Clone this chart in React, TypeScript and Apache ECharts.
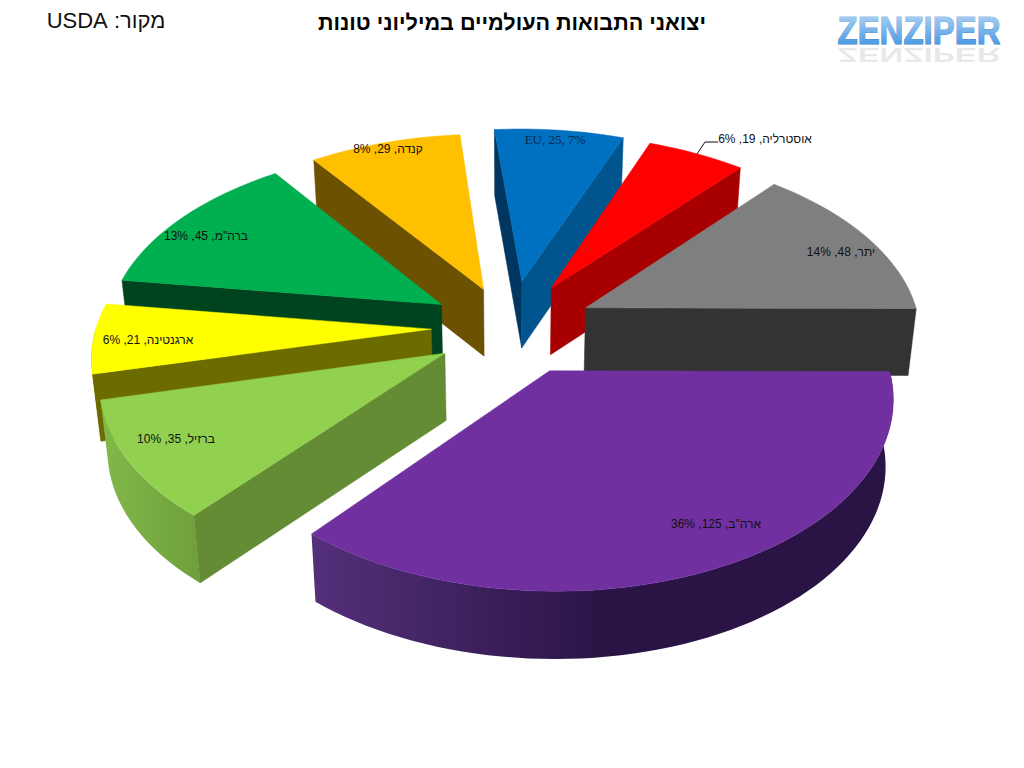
import React, { useEffect, useRef } from "react";
import * as echarts from "echarts";

const titleText = "יצואני התבואות העולמיים במיליוני טונות";
const sourceText = "מקור: USDA";
const logoText = "ZENZIPER";

const categories = ["EU", "אוסטרליה", "יתר", "ארה\"ב", "ברזיל", "ארגנטינה", "ברה\"מ", "קנדה"];
const values = [25, 19, 48, 125, 35, 21, 45, 29];
const percents = [7, 6, 14, 36, 10, 6, 13, 8];

// Look of each slice, same order as the categories
const topColors = ["#0070c0", "#ff0000", "#7f7f7f", "#7030a0", "#92d050", "#ffff00", "#00b050", "#ffc000"];
const startFaceColors = ["#00365f", "#a80000", "#333333", "#3a1a55", "#648c35", "#6b6b00", "#00441f", "#6b5100"];
const endFaceColors = ["#00558f", "#a80000", "#333333", "#3a1a55", "#648c35", "#6b6b00", "#00441f", "#6b5100"];
const rimStops = [
  ["#00365f", "#00365f"],
  ["#a80000", "#a80000"],
  ["#333333", "#333333"],
  ["#54307a", "#2a1445", "#2a1445"],
  ["#82b94a", "#6f9f3c"],
  ["#6b6b00", "#6b6b00"],
  ["#00441f", "#00441f"],
  ["#6b5100", "#6b5100"],
];
const explosions = [0.262, 0.255, 0.255, 0.26, 0.235, 0.232, 0.24, 0.225];
const explosionTurns = [1, 0, 0, -2, -5, 0, 0, 0];
const radiusScales = [1, 1, 1, 0.984, 1, 1, 1, 1.01];
const labelAnchors = [
  [555, 139], [765, 139], [841, 252], [716, 524], [176, 439], [148, 340], [206, 236], [388, 149],
];
// Back to front
const paintOrder = [0, 1, 7, 2, 6, 5, 4, 3];

const CX = 509, CY = 327, RX = 335, RY = 183, PERSP = 0.13, DEPTH = 67, SHRINK = 0.02;
const FIRST_ANGLE = -5.2;

const total = values.reduce((a, b) => a + b, 0);
const starts: number[] = [];
values.reduce((acc, v, i) => {
  starts[i] = acc;
  return acc + (v / total) * 360;
}, FIRST_ANGLE);

function project(u: number, v: number, down: number): number[] {
  const w = 1 - PERSP * v;
  const x = CX + (RX * u) / w;
  const y = CY + (RY * v) / w;
  const d = 1 - SHRINK * down;
  return [CX + (x - CX) * d, CY + (y - CY) * d + (DEPTH / Math.sqrt(w)) * down];
}

function labelText(i: number): string {
  const s = `${categories[i]}, ${values[i]}, ${percents[i]}%`;
  return /^[A-Z]/.test(categories[i]) ? `\u202A${s}\u202C` : s;
}

function renderSlice(_: any, api: any) {
  const i = api.value(0) as number;
  const a0 = starts[i];
  const a1 = a0 + (values[i] / total) * 360;
  const rad = (d: number) => (d * Math.PI) / 180;
  const mid = rad((a0 + a1) / 2 + explosionTurns[i]);
  const ex = explosions[i];
  const rs = radiusScales[i];
  const ou = Math.sin(mid) * ex;
  const ov = -Math.cos(mid) * ex;
  const at = (deg: number, r: number, down: number) =>
    project(ou + Math.sin(rad(deg)) * r * rs, ov - Math.cos(rad(deg)) * r * rs, down);

  const arcDeg: number[] = [];
  const steps = Math.max(8, Math.round((a1 - a0) / 2));
  for (let k = 0; k <= steps; k++) arcDeg.push(a0 + ((a1 - a0) * k) / steps);

  const apex = at(0, 0, 0);
  const apexDown = at(0, 0, 1);
  const inner = at((a0 + a1) / 2, 0.6, 0);
  const faceVisible = (deg: number) => {
    const p = at(deg, 1, 0);
    const ex1 = p[0] - apex[0], ey1 = p[1] - apex[1];
    const crossInner = ex1 * (inner[1] - apex[1]) - ey1 * (inner[0] - apex[0]);
    const crossDown = ex1;
    return crossInner * crossDown < 0;
  };

  const children: any[] = [];
  const rimDeg = arcDeg.filter((d) => Math.cos(rad(d)) < 0.02);
  if (rimDeg.length > 1) {
    const top = rimDeg.map((d) => at(d, 1, 0));
    const bottom = rimDeg.map((d) => at(d, 1, 1)).reverse();
    const stops = rimStops[i];
    children.push({
      type: "polygon",
      shape: { points: top.concat(bottom) },
      style: {
        fill: new echarts.graphic.LinearGradient(
          0, 0, 1, 0,
          stops.map((color, k) => ({ offset: k / (stops.length - 1), color }))
        ),
      },
    });
  }
  [[a0, startFaceColors[i]], [a1, endFaceColors[i]]].forEach(([deg, color]: any) => {
    if (!faceVisible(deg)) return;
    children.push({
      type: "polygon",
      shape: { points: [apex, at(deg, 1, 0), at(deg, 1, 1), apexDown] },
      style: { fill: color, stroke: color, lineWidth: 0.5 },
    });
  });
  children.push({
    type: "polygon",
    shape: { points: [apex].concat(arcDeg.map((d) => at(d, 1, 0))) },
    style: { fill: topColors[i], stroke: topColors[i], lineWidth: 0.5 },
  });
  children.push({
    type: "text",
    x: labelAnchors[i][0],
    y: labelAnchors[i][1],
    style: {
      text: labelText(i),
      fill: i === 0 ? "#0b2a4a" : "#111111",
      font: i === 0 ? '13px "Liberation Serif"' : '12px "Liberation Sans"',
      align: "center",
      verticalAlign: "middle",
    },
  });
  return { type: "group", children };
}

export default function App() {
  const ref = useRef<HTMLDivElement>(null);
  useEffect(() => {
    document.body.style.margin = "0";
    const chart = echarts.init(ref.current!, null, { renderer: "svg" });
    chart.setOption({
      animation: false,
      backgroundColor: "#ffffff",
      series: [
        {
          type: "custom",
          coordinateSystem: "none",
          silent: true,
          data: paintOrder.map((i) => [i, values[i]]),
          renderItem: renderSlice,
        },
      ],
      graphic: [
        {
          type: "text", x: 512, y: 22, z: 10,
          style: { text: titleText, fill: "#000", font: 'bold 21.6px "Liberation Sans"', align: "center", verticalAlign: "middle" },
        },
        {
          type: "text", x: 106, y: 20, z: 10,
          style: { text: sourceText, fill: "#111", font: '22px "Liberation Sans"', align: "center", verticalAlign: "middle" },
        },
        {
          type: "text", x: 919, y: 30, z: 10, scaleX: 0.97, scaleY: 1.15,
          style: {
            text: logoText,
            font: 'bold 34px "Liberation Sans"',
            align: "center", verticalAlign: "middle",
            fill: "#4d9de6", stroke: "#3f7fc4", lineWidth: 1,
          },
        },
        {
          type: "rect", z: 11,
          shape: { x: 836, y: 10, width: 166, height: 34 },
          style: {
            fill: new echarts.graphic.LinearGradient(0, 0, 0, 1, [
              { offset: 0, color: "rgba(255,255,255,0.6)" },
              { offset: 1, color: "rgba(255,255,255,0)" },
            ]),
          },
        },
        {
          type: "text", x: 919, y: 55, z: 9, scaleX: 0.97, scaleY: -0.6,
          style: {
            text: logoText,
            font: 'bold 34px "Liberation Sans"',
            align: "center", verticalAlign: "middle",
            fill: "#999999", opacity: 0.22,
          },
        },
        {
          type: "polyline", z: 10,
          shape: { points: [[718, 142], [705, 142], [697, 154]] },
          style: { stroke: "#111", lineWidth: 1, fill: "none" },
        },
      ],
    });
    return () => chart.dispose();
  }, []);
  return <div ref={ref} style={{ width: 1024, height: 768, direction: "rtl" }} />;
}
